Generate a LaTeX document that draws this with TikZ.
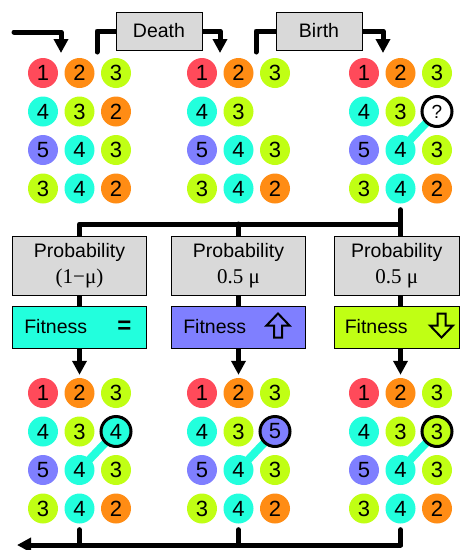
\documentclass[tikz,border=0pt]{standalone}
\usepackage{fontspec}
\setmainfont{Liberation Serif}
\setsansfont{Liberation Sans}
\usepackage{xcolor}
\usepackage{tikz}
\usetikzlibrary{arrows.meta, calc}

\definecolor{c1}{HTML}{FF4A5A}
\definecolor{c2}{HTML}{FF8C14}
\definecolor{c3}{HTML}{C0FF14}
\definecolor{c4}{HTML}{22FFDD}
\definecolor{c5}{HTML}{7F7FFF}
\definecolor{boxgray}{HTML}{D9D9D9}

\pgfdeclarelayer{background}
\pgfsetlayers{background,main}

\tikzset{
  ball/.style={circle, minimum size=30pt, inner sep=0pt,
    font=\sffamily\fontsize{22}{22}\selectfont},
  chosen/.style={ball, draw=black, line width=3pt},
  link/.style={line width=8pt, c4},
  flow/.style={line width=5pt, line cap=round, line join=round},
  flowarrow/.style={flow, -{Triangle[length=14pt,width=14pt]}},
  greybox/.style={draw, line width=0.8pt, fill=boxgray, inner sep=0pt,
    font=\sffamily\fontsize{19.5}{26}\selectfont},
  fitbox/.style={draw, line width=0.8pt, inner sep=0pt, minimum height=42pt},
  fitlabel/.style={inner sep=0pt, font=\sffamily\fontsize{19.5}{19.5}\selectfont},
  sign/.style={draw=black, line width=2pt, line join=miter}
}

\begin{document}
\begin{tikzpicture}[x=1pt, y=-1pt]
  \useasboundingbox (0,0) rectangle (460,550);
  %% the six populations, the cell in row 1 column 2 is set apart below
  \foreach \g/\gx/\gy in {A/43/73, B/202/73, C/364/73, D/43/393, E/202/393, F/364/393} {
    \foreach \r/\c/\v in {0/0/1, 0/1/2, 0/2/3, 1/0/4, 1/1/3, 2/0/5, 2/1/4, 2/2/3, 3/0/3, 3/1/4, 3/2/2}
      \node[ball, fill=c\v] (\g\r\c) at ({\gx+36.5*\c}, {\gy+38.5*\r}) {\v};
  }
  \node[ball, fill=c2] (A12) at (116, 111.5) {2};
  \node[chosen, fill=white, font=\sffamily\fontsize{19}{19}\selectfont] (C12) at (437, 111.5) {?};
  \node[chosen, fill=c4] (D12) at (116, 431.5) {4};
  \node[chosen, fill=c5] (E12) at (275, 431.5) {5};
  \node[chosen, fill=c3] (F12) at (437, 431.5) {3};

  %% death and birth
  \node[greybox, minimum width=86pt, minimum height=38pt] (death) at (159,31) {Death};
  \node[greybox, minimum width=86pt, minimum height=38pt] (birth) at (319,31) {Birth};

  %% the three outcomes of the birth
  \node[greybox, minimum width=134pt, minimum height=59pt, align=center] (p1) at (79.5,265.5)
    {Probability\\{\rmfamily\fontsize{21}{26}\selectfont(1−μ)}};
  \node[greybox, minimum width=134pt, minimum height=59pt, align=center] (p2) at (238.5,265.5)
    {Probability\\{\rmfamily\fontsize{21}{26}\selectfont0.5 μ}};
  \node[greybox, minimum width=125.5pt, minimum height=59pt, align=center] (p3) at (396.75,265.5)
    {Probability\\{\rmfamily\fontsize{21}{26}\selectfont0.5 μ}};
  \node[fitbox, fill=c4, minimum width=134pt] (f1) at (79.5,327) {};
  \node[fitbox, fill=c5, minimum width=134pt] (f2) at (238.5,327) {};
  \node[fitbox, fill=c3, minimum width=125.5pt] (f3) at (396.75,327) {};
  \node[fitlabel, anchor=west] (f1t) at ([xshift=12pt]f1.west) {Fitness};
  \node[fitlabel, anchor=west] (f2t) at ([xshift=12pt]f2.west) {Fitness};
  \node[fitlabel, anchor=west] (f3t) at ([xshift=11pt]f3.west) {Fitness};
  \node[inner sep=0pt, font=\sffamily\bfseries\fontsize{24}{24}\selectfont] (same) at (124.5,327.5) {=};
  \coordinate (upsign) at (278,325.5);
  \coordinate (downsign) at (441.5,325.5);
  \draw[sign] ($(upsign)+(0,-12)$) -- ++(11.5,12) -- ++(-7.5,0) -- ++(0,12)
    -- ++(-8,0) -- ++(0,-12) -- ++(-7.5,0) -- cycle;
  \draw[sign] ($(downsign)+(0,12)$) -- ++(11.5,-12) -- ++(-7.5,0) -- ++(0,-12)
    -- ++(-8,0) -- ++(0,12) -- ++(-7.5,0) -- cycle;

  %% connectors sit behind the boxes and the circles
  \coordinate (in) at (14,32);
  \coordinate (inA) at (61,53);
  \coordinate (outA) at (97,52);
  \coordinate (inB) at (220,53);
  \coordinate (outB) at (256,52);
  \coordinate (inC) at (383,53);
  \coordinate (bus) at (400.5,224);
  \coordinate (ret) at (400.5,545);
  \coordinate (back) at (17,545);
  \begin{pgfonlayer}{background}
    \foreach \g in {C,D,E,F}
      \draw[link] (\g21.center) -- (\g12.center);
    \draw[flowarrow] (in) -| (inA);
    \draw[flow] (outA) |- (death);
    \draw[flowarrow] (death) -| (inB);
    \draw[flow] (outB) |- (birth);
    \draw[flowarrow] (birth) -| (inC);
    \draw[flow] ([yshift=-6pt]C31.south) -- (bus) -| (p1);
    \draw[flow] (bus) -- (bus |- p3.north);
    \draw[flow] (p2.north |- bus) -- (p2);
    \draw[flow] (p1) -- (f1);
    \draw[flow] (p2) -- (f2);
    \draw[flow] (bus |- p3.south) -- (bus |- f3.north);
    \draw[flowarrow] (f1.south -| D01) -- ([yshift=3pt]D01.north);
    \draw[flowarrow] (f2.south -| E01) -- ([yshift=3pt]E01.north);
    \draw[flowarrow] (f3.south -| F01) -- ([yshift=3pt]F01.north);
    \draw[flow] ([yshift=-6pt]D31.south) -- (D31 |- ret);
    \draw[flow] ([yshift=-6pt]E31.south) -- (E31 |- ret);
    \draw[flow] ([yshift=-6pt]F31.south) -- (ret);
    \draw[flowarrow] (ret) -- (back);
  \end{pgfonlayer}
\end{tikzpicture}
\end{document}
